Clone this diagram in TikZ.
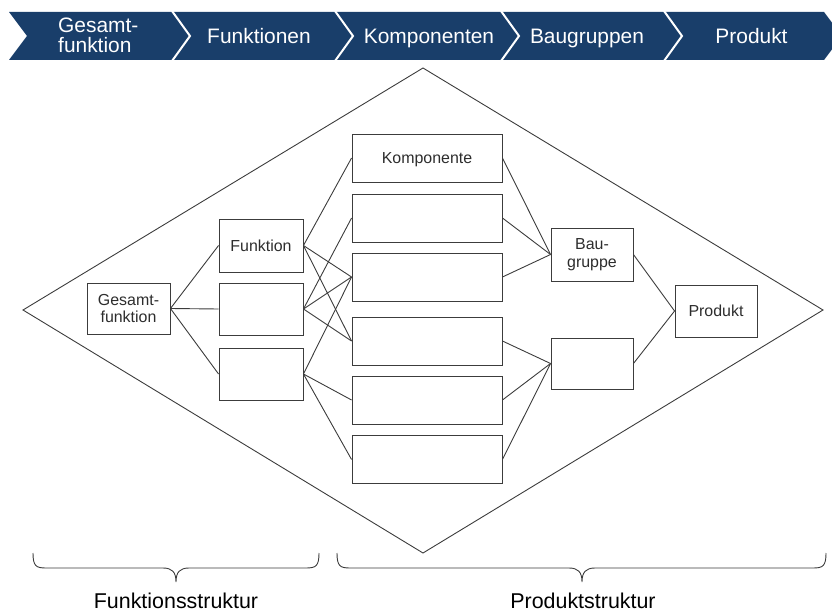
\documentclass[tikz,border=0pt]{standalone}
\usepackage{fontspec}
\setmainfont{Liberation Sans}
\definecolor{bandblue}{RGB}{25,62,106}
\definecolor{linegray}{RGB}{60,60,60}
\definecolor{textgray}{RGB}{45,45,45}
\begin{document}
\begin{tikzpicture}[x=1bp,y=-1bp,
  box/.style={draw=linegray, line width=0.9bp, fill=white, inner sep=0pt,
    font=\fontsize{16}{18}\selectfont, text=textgray, align=center},
  link/.style={draw=linegray, line width=0.9bp},
  chevfill/.style={fill=bandblue},
  chevsep/.style={draw=white, line width=2bp, line join=miter},
  head/.style={text=white, font=\fontsize{21}{21}\selectfont, inner sep=0pt},
  outline/.style={draw=linegray, line width=0.9bp, line join=miter},
  brc/.style={draw=linegray, line width=0.9bp},
  strlabel/.style={text=black, font=\fontsize{21.5}{22}\selectfont, inner sep=0pt, anchor=base}
]
\useasboundingbox (0,0) rectangle (832,612);

% process band of chevrons
\foreach \a/\b in {9/172,172/335,335/501,501/664,664/824}{
  \path[chevfill] (\a,12) -- (\b,12) -- (\b+18,36) -- (\b,60) -- (\a,60) -- (\a+18,36) -- cycle;
}
\foreach \b in {172,335,501,664}{
  \draw[chevsep] (\b,11) -- (\b+18,36) -- (\b,61);
}
% two-line label: the base anchor sits on the last line
\node[head, anchor=base west, align=left, font=\fontsize{21}{21}\selectfont] (hG) at (58,53) {Gesamt-\\funktion};
\node[head, anchor=base] (hF) at (259,44) {Funktionen};
\node[head, anchor=base] (hK) at (429,44) {Komponenten};
\node[head, anchor=base] (hB) at (587,44) {Baugruppen};
\node[head, anchor=base] (hP) at (751.5,44) {Produkt};

% diamond frame
\draw[outline] (23,310) -- (423,68) -- (823,310) -- (423,553) -- cycle;

% boxes
\node[box, minimum width=83bp, minimum height=51bp] (G) at (128.5,308.5) {Gesamt-\\funktion};

\node[box, minimum width=84bp, minimum height=53bp, text depth=0pt] (F1) at (261,245.5) {Funktion};
\node[box, minimum width=84bp, minimum height=52bp] (F2) at (261,309) {};
\node[box, minimum width=84bp, minimum height=52bp] (F3) at (261,374) {};

\node[box, minimum width=150bp, minimum height=48bp, text depth=0pt] (C1) at (427,158) {Komponente};
\node[box, minimum width=150bp, minimum height=48bp] (C2) at (427,218) {};
\node[box, minimum width=150bp, minimum height=48bp] (C3) at (427,277) {};
\node[box, minimum width=150bp, minimum height=48bp] (C4) at (427,341) {};
\node[box, minimum width=150bp, minimum height=48bp] (C5) at (427,400) {};
\node[box, minimum width=150bp, minimum height=48bp] (C6) at (427,459.5) {};

\node[box, minimum width=82bp, minimum height=53bp] (B1) at (592,254.5) {Bau-\\gruppe};
\node[box, minimum width=82bp, minimum height=51bp] (B2) at (592,363.5) {};

\node[box, minimum width=82bp, minimum height=52bp, text depth=0pt] (P) at (716,311) {Produkt};

% connections
\foreach \f in {F1,F2,F3}{ \draw[link] (G.east) -- (\f.west); }
\foreach \c in {C1,C3,C4}{ \draw[link] (F1.east) -- (\c.west); }
\foreach \c in {C2,C3,C4}{ \draw[link] (F2.east) -- (\c.west); }
\foreach \c in {C3,C5,C6}{ \draw[link] (F3.east) -- (\c.west); }
\foreach \c in {C1,C2,C3}{ \draw[link] (\c.east) -- (B1.west); }
\foreach \c in {C4,C5,C6}{ \draw[link] (\c.east) -- (B2.west); }
\draw[link] (B1.east) -- (P.west);
\draw[link] (B2.east) -- (P.west);

% braces
\draw[brc] (33,553) .. controls (33,566) and (36,568) .. (46,568) -- (163,568)
  .. controls (172,568) and (176,572) .. (176,582)
  .. controls (176,572) and (180,568) .. (189,568) -- (306,568)
  .. controls (316,568) and (319,566) .. (319,553);
\draw[brc] (337,553) .. controls (337,566) and (340,568) .. (350,568) -- (569,568)
  .. controls (578,568) and (582,572) .. (582,582)
  .. controls (582,572) and (586,568) .. (595,568) -- (813,568)
  .. controls (823,568) and (826,566) .. (826,553);

\node[strlabel] (fs) at (176,608) {Funktionsstruktur};
\node[strlabel] (ps) at (583,608) {Produktstruktur};
\end{tikzpicture}
\end{document}
